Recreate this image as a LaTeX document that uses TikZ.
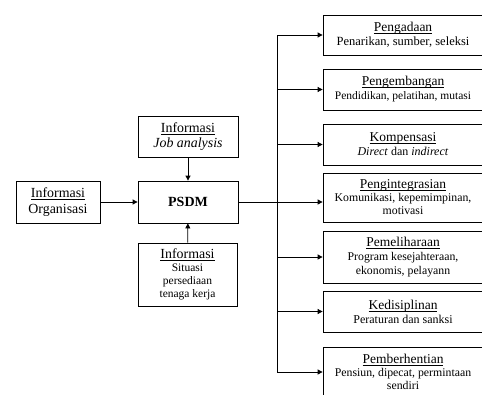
\documentclass[tikz,border=0pt]{standalone}
\usepackage{fontspec}
\setmainfont{Liberation Serif}
\usetikzlibrary{arrows.meta}
\tikzstyle{box}=[draw, line width=0.8pt, align=center, inner sep=1pt]
\tikzstyle{infobox}=[box, minimum width=100pt, font=\fontsize{13.9}{15.5}\selectfont]
\tikzstyle{taskbox}=[box, minimum width=160pt, font=\fontsize{12}{14}\selectfont]
\tikzstyle{link}=[line width=0.8pt, -{Triangle[length=5pt, width=5pt]}]
\newcommand{\undl}[1]{\setbox0=\hbox{#1}\rlap{\rule[-2pt]{\wd0}{0.6pt}}\box0}
\newcommand{\taskhead}[1]{\undl{\fontsize{13.5}{14}\selectfont #1}}
\newcommand{\infohead}[1]{\undl{\fontsize{13.9}{15}\selectfont #1}}

\begin{document}
\begin{tikzpicture}[x=1pt, y=-1pt]
    \clip (0,0) rectangle (482,394);
    % left side
    \node[infobox, minimum width=84pt, minimum height=42pt] (org) at (58, 202) {\undl{Informasi}\\Organisasi};
    \node[infobox, minimum height=42pt, font=\fontsize{14}{15}\selectfont\bfseries] (psdm) at (188, 202) {PSDM};
    \node[infobox, minimum height=41pt] (job) at (188, 136.5) {\undl{Informasi}\\\textit{Job analysis}};
    \node[infobox, minimum width=99pt, minimum height=63pt, font=\fontsize{11.5}{13}\selectfont] (sit) at (187.5, 274.5)
        {\infohead{Informasi}\\Situasi\\persediaan\\tenaga kerja};
    % right side
    \node[taskbox, minimum height=40pt, font=\fontsize{12.5}{14}\selectfont] (r1) at (403, 35) {\taskhead{Pengadaan}\\Penarikan, sumber, seleksi};
    \node[taskbox, minimum height=41pt, font=\fontsize{11.5}{14}\selectfont] (r2) at (403, 89.5) {\taskhead{Pengembangan}\\Pendidikan, pelatihan, mutasi};
    \node[taskbox, minimum height=41pt] (r3) at (403, 144.5) {\taskhead{Kompensasi}\\\textit{Direct} dan \textit{indirect}};
    \node[taskbox, minimum height=49pt, font=\fontsize{11.8}{13}\selectfont] (r4) at (403, 197.5) {\taskhead{Pengintegrasian}\\Komunikasi, kepemimpinan,\\motivasi};
    \node[taskbox, minimum height=52pt, font=\fontsize{11.8}{14}\selectfont] (r5) at (403, 257) {\taskhead{Pemeliharaan}\\Program kesejahteraan,\\ekonomis, pelayann};
    \node[taskbox, minimum height=41pt] (r6) at (403, 311.5) {\taskhead{Kedisiplinan}\\Peraturan dan sanksi};
    \node[taskbox, minimum height=50pt, font=\fontsize{11.8}{13}\selectfont] (r7) at (403, 372) {\taskhead{Pemberhentian}\\Pensiun, dipecat, permintaan\\sendiri};
    \coordinate (bus) at (277, 202);
    % connectors
    \draw[link] (org) -- (psdm);
    \draw[link] (job) -- (psdm);
    \draw[link] (sit) -- (psdm);
    \draw[line width=0.8pt] (psdm) -- (bus);
    \draw[link] (bus) |- (r1);
    \draw[link] (bus) |- (r2);
    \draw[link] (bus) |- (r3);
    \draw[link] (bus) -- (bus -| r4.west);
    \draw[link] (bus) |- (r5);
    \draw[link] (bus) |- (r6);
    \draw[link] (bus) |- (r7);
\end{tikzpicture}
\end{document}
